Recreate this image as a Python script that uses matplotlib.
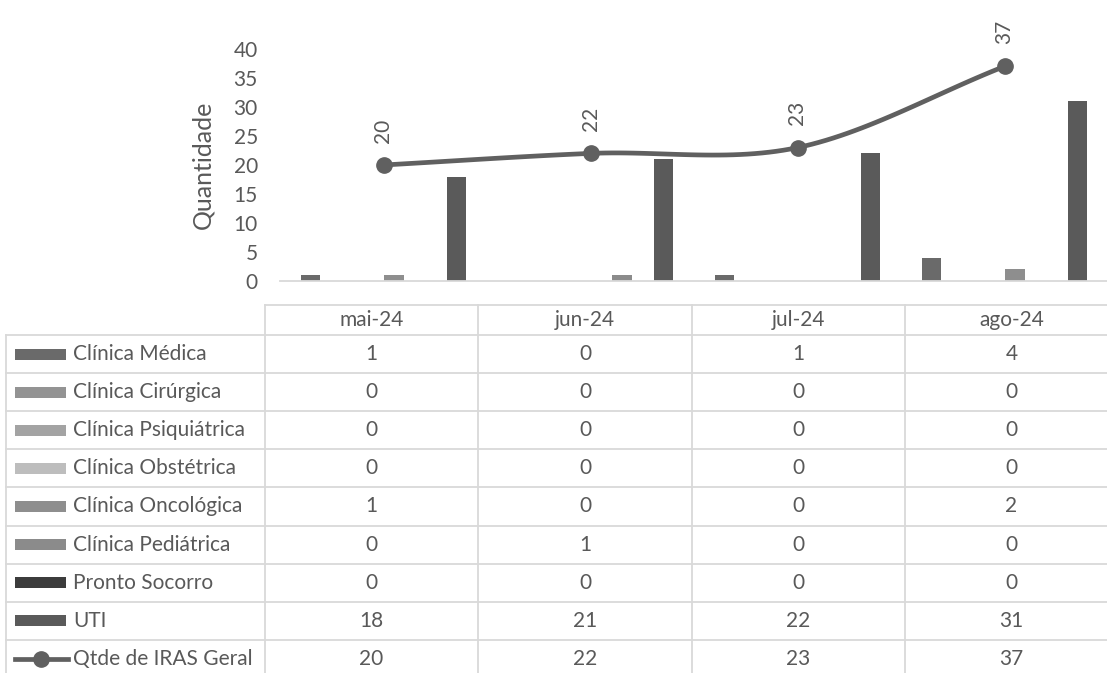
import numpy as np
import matplotlib
matplotlib.use('Agg')
import matplotlib.pyplot as plt
from matplotlib.patches import Rectangle
from matplotlib.lines import Line2D

plt.rcParams['font.family'] = ['Lato', 'DejaVu Sans']

# data
months = ['mai-24', 'jun-24', 'jul-24', 'ago-24']
series = ['Clínica Médica', 'Clínica Cirúrgica', 'Clínica Psiquiátrica', 'Clínica Obstétrica',
          'Clínica Oncológica', 'Clínica Pediátrica', 'Pronto Socorro', 'UTI']
medica = [1, 0, 1, 4]
cirurgica = [0, 0, 0, 0]
psiquiatrica = [0, 0, 0, 0]
obstetrica = [0, 0, 0, 0]
oncologica = [1, 0, 0, 2]
pediatrica = [0, 1, 0, 0]
pronto_socorro = [0, 0, 0, 0]
uti = [18, 21, 22, 31]
total_label = 'Qtde de IRAS Geral'
total = [20, 22, 23, 37]

values = [medica, cirurgica, psiquiatrica, obstetrica, oncologica, pediatrica, pronto_socorro, uti]
colors = ['#6a6a6a', '#939393', '#a3a3a3', '#bdbdbd', '#8e8e8e', '#8b8b8b', '#3c3c3c', '#5a5a5a']
line_color = '#606060'
text_color = '#595959'
grid_color = '#d9d9d9'
fs = 15

W, H = 1107, 673
fig = plt.figure(figsize=(W / 100, H / 100), dpi=100)

# chart area (pixel layout)
px_l, px_r, px_t, px_b = 280, 1108, 49, 281
ax = fig.add_axes([px_l / W, 1 - px_b / H, (px_r - px_l) / W, (px_b - px_t) / H])
x = np.arange(len(months))
n = len(series)
step = 0.1014
for i, (vals, c) in enumerate(zip(values, colors)):
    ax.bar(x + (i - (n - 1) / 2) * step, vals, width=0.092, color=c, zorder=2)

# smooth line (catmull-rom through the points)
def catmull(xs, ys, k=30):
    xs = np.asarray(xs, float); ys = np.asarray(ys, float)
    px = np.concatenate([[2 * xs[0] - xs[1]], xs, [2 * xs[-1] - xs[-2]]])
    py = np.concatenate([[2 * ys[0] - ys[1]], ys, [2 * ys[-1] - ys[-2]]])
    outx, outy = [], []
    for j in range(1, len(px) - 2):
        t = np.linspace(0, 1, k)
        for arr, out in ((px, outx), (py, outy)):
            p0, p1, p2, p3 = arr[j - 1], arr[j], arr[j + 1], arr[j + 2]
            out.extend(0.5 * (2 * p1 + (-p0 + p2) * t + (2 * p0 - 5 * p1 + 4 * p2 - p3) * t ** 2
                              + (-p0 + 3 * p1 - 3 * p2 + p3) * t ** 3))
    return outx, outy

sx, sy = catmull(x, total)
ax.plot(sx, sy, color=line_color, lw=3.4, zorder=3, solid_capstyle='round')
ax.plot(x, total, 'o', color=line_color, ms=11, zorder=4)
for xi, v in zip(x, total):
    ax.annotate(str(v), (xi, v), xytext=(0, 16), textcoords='offset points',
                rotation=90, ha='center', va='bottom', fontsize=fs, color=text_color,
                annotation_clip=False)

ax.set_xlim(-0.5, 3.5)
ax.set_ylim(0, 40)
ax.set_yticks(range(0, 41, 5))
ax.set_xticks([])
ax.tick_params(axis='y', length=0, labelsize=fs, labelcolor=text_color, pad=16)
for s in ['top', 'right', 'left']:
    ax.spines[s].set_visible(False)
ax.spines['bottom'].set_color(grid_color)
ax.spines['bottom'].set_linewidth(1.3)
ax.set_ylabel('Quantidade', fontsize=18, color=text_color, labelpad=14)

# data table drawn in pixel coordinates
tab = fig.add_axes([0, 0, 1, 1])
tab.set_xlim(0, W)
tab.set_ylim(H, 0)
tab.axis('off')

col_edges = [265, 478, 692, 905, 1118]
label_left = 6
head_top, head_bot = 305, 335
row_h = 38.1
labels = series + [total_label]
table_vals = values + [total]
nrows = len(labels)
bottom = head_bot + nrows * row_h

lw = 1.3
tab.plot([col_edges[0], W], [head_top, head_top], color=grid_color, lw=lw)
for r in range(nrows + 1):
    y = head_bot + r * row_h
    tab.plot([label_left, W], [y, y], color=grid_color, lw=lw)
tab.plot([label_left, label_left], [head_bot, bottom], color=grid_color, lw=lw)
for xe in col_edges:
    tab.plot([xe, xe], [head_top, bottom], color=grid_color, lw=lw)

for c, m in enumerate(months):
    cx = (col_edges[c] + col_edges[c + 1]) / 2
    tab.text(cx, (head_top + head_bot) / 2, m, ha='center', va='center',
             fontsize=fs, color=text_color)

for r, (lab, vals) in enumerate(zip(labels, table_vals)):
    cy = head_bot + (r + 0.5) * row_h
    if r < len(series):
        tab.add_patch(Rectangle((15, cy - 5.5), 51, 11, color=colors[r], lw=0))
    else:
        tab.add_line(Line2D([15, 68], [cy, cy], color=line_color, lw=3.4))
        tab.plot([41], [cy], 'o', color=line_color, ms=11)
    tab.text(73, cy, lab, ha='left', va='center', fontsize=fs, color=text_color)
    for c, v in enumerate(vals):
        cx = (col_edges[c] + col_edges[c + 1]) / 2
        tab.text(cx, cy, str(v), ha='center', va='center', fontsize=fs, color=text_color)

fig.savefig('out.png', dpi=100)
